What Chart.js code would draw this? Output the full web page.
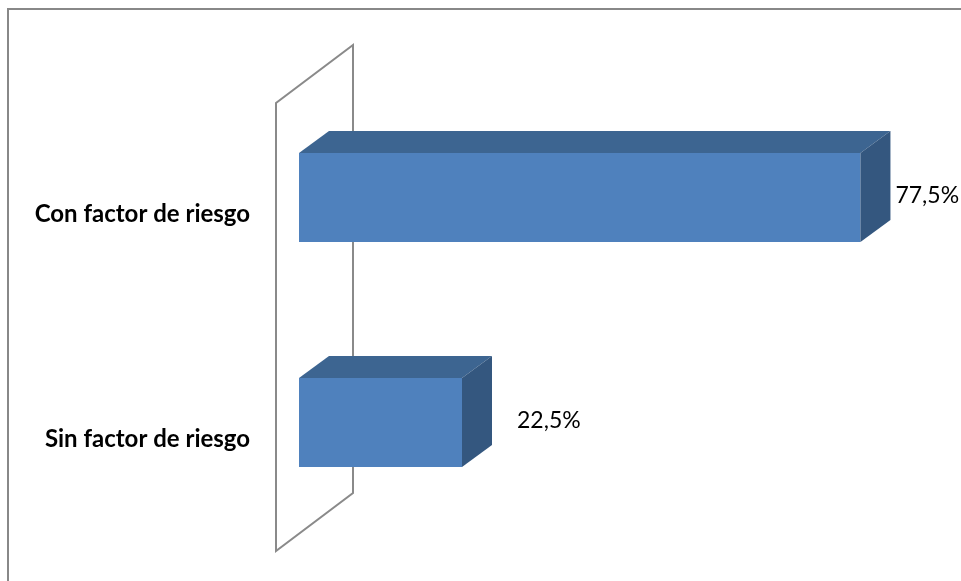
<!DOCTYPE html>
<html>
<head>
<meta charset="utf-8">
<script src="https://cdn.jsdelivr.net/npm/chart.js@4/dist/chart.umd.min.js"></script>
<style>
  html, body { margin: 0; padding: 0; background: #fff; }
  #wrap { width: 961px; height: 581px; position: relative; }
</style>
</head>
<body>
<div id="wrap"><canvas id="riesgoChart"></canvas></div>
<script>
// Data
const categories = ["Con factor de riesgo", "Sin factor de riesgo"];
const percentages = [77.5, 22.5];
const valueLabels = ["77,5%", "22,5%"];

// 3D look
const DEPTH_X = 30;
const DEPTH_Y = 22;
const FRONT = "#4f81bd";
const TOP = "#3d6591";
const SIDE = "#34577f";

// outer frame + the back wall behind the bars
const framePlugin = {
    id: "frame",
    beforeDatasetsDraw(chart) {
        const { ctx, chartArea } = chart;
        const zeroX = chart.scales.x.getPixelForValue(0);
        ctx.save();
        ctx.strokeStyle = "#888888";
        ctx.lineWidth = 2;
        ctx.strokeRect(8, 9, 1000, 1000);

        // wall (parallelogram)
        const fx = zeroX - 23, bx = zeroX + 54;
        const topF = chartArea.top + 18, botF = chartArea.bottom + 16;
        const rise = 58;
        ctx.strokeStyle = "#8a8a8a";
        ctx.lineWidth = 2;
        ctx.beginPath();
        ctx.moveTo(fx, botF);
        ctx.lineTo(fx, topF);
        ctx.lineTo(bx, topF - rise);
        ctx.lineTo(bx, botF - rise);
        ctx.closePath();
        ctx.stroke();
        ctx.restore();
    }
};

// top and side faces, then value labels
const boxPlugin = {
    id: "box3d",
    afterDatasetsDraw(chart) {
        const { ctx } = chart;
        const meta = chart.getDatasetMeta(0);
        const gaps = [5, 25];
        ctx.save();
        meta.data.forEach((bar, i) => {
            const x0 = bar.base, x1 = bar.x;
            const y0 = bar.y - bar.height / 2, y1 = bar.y + bar.height / 2;

            ctx.fillStyle = TOP;
            ctx.beginPath();
            ctx.moveTo(x0, y0);
            ctx.lineTo(x0 + DEPTH_X, y0 - DEPTH_Y);
            ctx.lineTo(x1 + DEPTH_X, y0 - DEPTH_Y);
            ctx.lineTo(x1, y0);
            ctx.closePath();
            ctx.fill();

            ctx.fillStyle = SIDE;
            ctx.beginPath();
            ctx.moveTo(x1, y0);
            ctx.lineTo(x1 + DEPTH_X, y0 - DEPTH_Y);
            ctx.lineTo(x1 + DEPTH_X, y1 - DEPTH_Y);
            ctx.lineTo(x1, y1);
            ctx.closePath();
            ctx.fill();

            ctx.fillStyle = "#000";
            ctx.font = "23px Lato";
            ctx.textAlign = "left";
            ctx.textBaseline = "middle";
            ctx.fillText(valueLabels[i], x1 + DEPTH_X + gaps[i], bar.y - 2);
        });
        ctx.restore();
    }
};

new Chart(document.getElementById("riesgoChart"), {
    type: "bar",
    data: {
        labels: categories,
        datasets: [{
            data: percentages,
            backgroundColor: FRONT,
            borderWidth: 0,
            categoryPercentage: 1,
            barPercentage: 0.395
        }]
    },
    options: {
        indexAxis: "y",
        responsive: true,
        maintainAspectRatio: false,
        animation: false,
        layout: { padding: { top: 85, bottom: 46, right: 10, left: 0 } },
        plugins: {
            legend: { display: false },
            tooltip: { enabled: false }
        },
        scales: {
            x: {
                display: false,
                min: 0,
                max: 90
            },
            y: {
                grid: { display: false, drawTicks: false },
                border: { display: false },
                afterFit(scale) {
                    scale.width = 299;
                    scale.paddingTop = 0;
                    scale.paddingBottom = 0;
                },
                ticks: {
                    color: "#000",
                    font: { family: "Lato", size: 24, weight: "bold" },
                    padding: 49,
                    labelOffset: 17
                }
            }
        }
    },
    plugins: [framePlugin, boxPlugin]
});
</script>
</body>
</html>
